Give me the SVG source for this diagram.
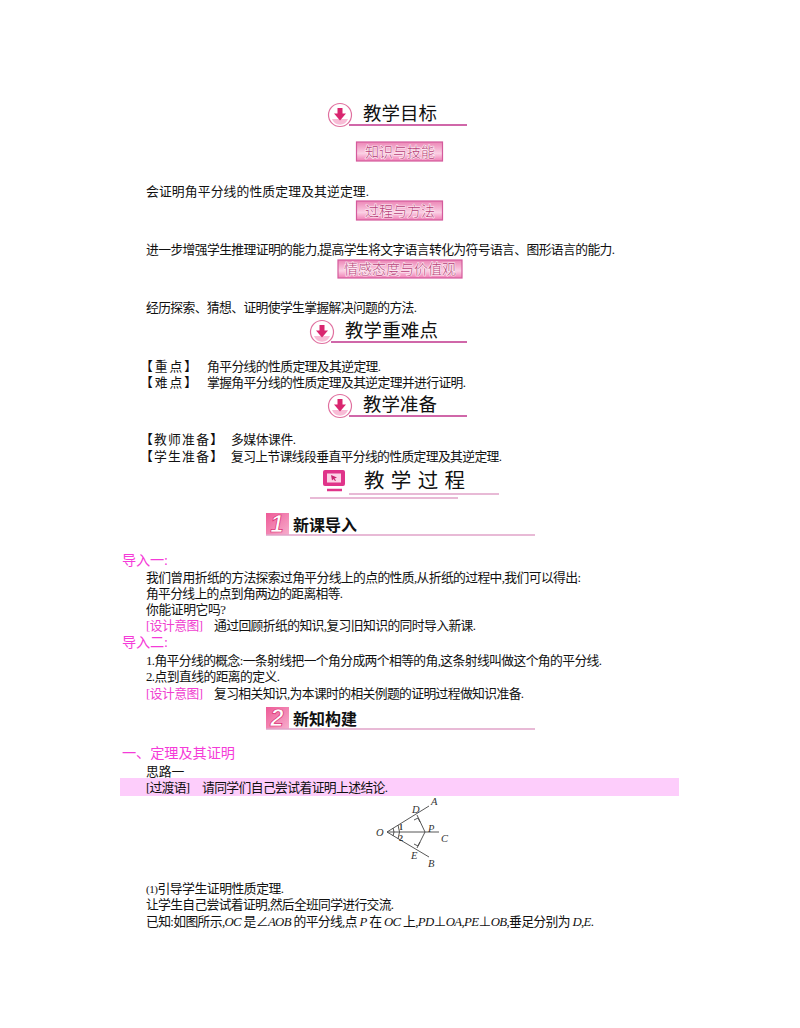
<svg xmlns="http://www.w3.org/2000/svg" width="800" height="1028" viewBox="0 0 800 1028">
<style>
text{font-family:"Liberation Serif","Noto Sans CJK SC",serif}
.t{font-size:12.8px;fill:#111}
.m{font-size:12.8px;fill:#f03fd0}
.mh{font-size:14.2px;fill:#f53bd8}
.h{font-size:18.5px;fill:#111;font-family:"Noto Sans CJK SC",sans-serif}
.sec{font-size:16px;font-weight:700;fill:#111;font-family:"Noto Sans CJK SC",sans-serif}
.box{fill:url(#pg);stroke:#d45a9c;stroke-width:1.2}
.bt{font-size:14px;fill:#b83f78;stroke:#fdeef5;stroke-width:1.2;paint-order:stroke;font-family:"Noto Sans CJK SC",sans-serif;font-weight:300;text-anchor:middle}
.ul{stroke:#c0358c;stroke-width:1.5;fill:none}
.ul2{stroke:#e0a3c8;stroke-width:1.4;fill:none}
.num{font-size:24px;font-weight:700;font-style:italic;fill:#fff;stroke:#d9266f;stroke-width:.7;font-family:"Liberation Sans",sans-serif;text-anchor:middle}
.g{stroke:#444;stroke-width:.9;fill:none}
.gl{font-size:10.500px;font-style:italic;fill:#333}
.i{font-style:italic}
</style>
<defs>
<linearGradient id="pg" x1="0" y1="0" x2="0" y2="1"><stop offset="0" stop-color="#ec86b6"/><stop offset=".6" stop-color="#fbd0e4"/><stop offset="1" stop-color="#f07fb5"/></linearGradient>
<linearGradient id="sq" x1="0" y1="0" x2="1" y2="1"><stop offset="0" stop-color="#ee5a97"/><stop offset="1" stop-color="#f7aecd"/></linearGradient>
<g id="arrowIcon"><circle cx="0" cy="0" r="11.5" fill="#fff" stroke="#e0709f" stroke-width="1.2"/><path d="M-8 4A8.500 8.500 0 0 0 8 4Z" fill="#f8bcd6"/><path d="M-2.500-7H2.500V-1.500H6L0 5.500-6-1.500H-2.500Z" fill="#d9266f"/></g>
</defs>

<g id="header-goal"><use href="#arrowIcon" x="340" y="115"/><path class="ul" d="M349 125H467"/><text class="h" x="363" y="120" textLength="74">教学目标</text></g>
<g id="box-knowledge"><rect class="box" x="356.500" y="142" width="86" height="19"/><text class="bt" x="400" y="156.500">知识与技能</text></g>
<g id="line-1"><text class="t" x="146" y="196" textLength="223">会证明角平分线的性质定理及其逆定理.</text></g>
<g id="box-process"><rect class="box" x="356.500" y="201" width="86" height="19"/><text class="bt" x="400" y="215.500">过程与方法</text></g>
<g id="line-2"><text class="t" x="146" y="254" textLength="469">进一步增强学生推理证明的能力,提高学生将文字语言转化为符号语言、图形语言的能力.</text></g>
<g id="box-attitude"><rect class="box" x="338" y="260" width="124" height="18"/><text class="bt" x="400" y="274">情感态度与价值观</text></g>
<g id="line-3"><text class="t" x="146" y="312" textLength="271">经历探索、猜想、证明使学生掌握解决问题的方法.</text></g>

<g id="header-key"><use href="#arrowIcon" x="322" y="332"/><path class="ul" d="M331 342H467"/><text class="h" x="345" y="337" textLength="93">教学重难点</text></g>
<g id="key-1"><text class="t" x="140" y="371" textLength="57">【重点】</text><text class="t" x="207" y="371" textLength="174">角平分线的性质定理及其逆定理.</text></g>
<g id="key-2"><text class="t" x="140" y="387" textLength="57">【难点】</text><text class="t" x="207" y="387" textLength="259">掌握角平分线的性质定理及其逆定理并进行证明.</text></g>

<g id="header-prep"><use href="#arrowIcon" x="340" y="406"/><path class="ul" d="M349 416H467"/><text class="h" x="363" y="411" textLength="74">教学准备</text></g>
<g id="prep-1"><text class="t" x="140" y="444" textLength="83">【教师准备】</text><text class="t" x="231" y="444" textLength="65">多媒体课件.</text></g>
<g id="prep-2"><text class="t" x="140" y="461" textLength="83">【学生准备】</text><text class="t" x="231" y="461" textLength="271">复习上节课线段垂直平分线的性质定理及其逆定理.</text></g>

<g id="header-process">
<rect x="323" y="470" width="22" height="16" rx="2" fill="#e0348a"/><rect x="327" y="473.500" width="14" height="9" fill="#fbd3e6"/><path d="M331 475l6 2.500-2.500 1 1.500 2-1 .5-1.500-2-1.500 1.500Z" fill="#c9246f"/><path d="M327 490H342" stroke="#e0348a" stroke-width="2.500"/>
<path class="ul2" d="M349 494H499"/><path class="ul2" d="M310 498H458"/>
<text x="364" y="488" style="font-size:20.500px;fill:#111;font-family:'Noto Sans CJK SC',sans-serif" textLength="101">教学过程</text></g>

<g id="section-1"><rect x="266" y="513" width="23" height="22" fill="url(#sq)"/><text class="num" x="277" y="532">1</text><path class="ul2" d="M266 535H535"/><text class="sec" x="293" y="531" textLength="64">新课导入</text></g>

<g id="intro-1-title"><text class="mh" x="122" y="565" textLength="46">导入一:</text></g>
<g id="intro-1"><text class="t" x="146" y="582" textLength="435">我们曾用折纸的方法探索过角平分线上的点的性质,从折纸的过程中,我们可以得出:</text>
<text class="t" x="146" y="598" textLength="197">角平分线上的点到角两边的距离相等.</text>
<text class="t" x="146" y="614" textLength="80">你能证明它吗?</text>
<text class="m" x="146" y="630" textLength="57">[设计意图]</text><text class="t" x="214" y="630" textLength="262">通过回顾折纸的知识,复习旧知识的同时导入新课.</text></g>
<g id="intro-2-title"><text class="mh" x="122" y="647" textLength="46">导入二:</text></g>
<g id="intro-2"><text class="t" x="146" y="665" textLength="456">1.角平分线的概念:一条射线把一个角分成两个相等的角,这条射线叫做这个角的平分线.</text>
<text class="t" x="146" y="681" textLength="134">2.点到直线的距离的定义.</text>
<text class="m" x="146" y="698" textLength="57">[设计意图]</text><text class="t" x="214" y="698" textLength="310">复习相关知识,为本课时的相关例题的证明过程做知识准备.</text></g>

<g id="section-2"><rect x="266" y="707" width="23" height="22" fill="url(#sq)"/><text class="num" x="277" y="726">2</text><path class="ul2" d="M266 729H535"/><text class="sec" x="293" y="725" textLength="64">新知构建</text></g>

<g id="theorem-title"><text class="mh" x="122" y="758" textLength="113">一、定理及其证明</text></g>
<g id="idea"><text class="t" x="146" y="776">思路一</text></g>
<g id="transition"><rect x="120" y="778" width="559" height="18" fill="#fdcdfb"/><text class="t" x="146" y="792" textLength="44">[过渡语]</text><text class="t" x="202" y="792" textLength="186">请同学们自己尝试着证明上述结论.</text></g>

<g id="figure">
<path class="g" d="M387 832L429 806M387 832L429 857M387 832H439M417 815L425 832L417 848"/>
<path class="g" d="M398 825Q401 832 398 839M393 828Q395 832 393 836M414 820L418 818L420 822M414 844L418 846L420 842"/>
<text class="gl" x="376" y="836">O</text><text class="gl" x="412" y="813">D</text><text class="gl" x="431" y="805">A</text><text class="gl" x="428" y="832">P</text><text class="gl" x="441" y="842">C</text><text class="gl" x="411" y="859">E</text><text class="gl" x="428" y="867">B</text>
<text class="gl" style="font-style:normal;font-weight:700;font-size:8px" x="399" y="830">1</text><text class="gl" style="font-style:normal;font-weight:700;font-size:8px" x="399" y="841">2</text>
</g>

<g id="proof"><text class="t" x="146" y="893" textLength="138"><tspan style="font-size:11px">(1)</tspan>引导学生证明性质定理.</text>
<text class="t" x="146" y="909" textLength="248">让学生自己尝试着证明,然后全班同学进行交流.</text>
<text class="t" x="146" y="926" textLength="448">已知:如图所示,<tspan class="i">OC</tspan> 是∠<tspan class="i">AOB</tspan> 的平分线,点 <tspan class="i">P</tspan> 在 <tspan class="i">OC</tspan> 上,<tspan class="i">PD</tspan>⊥<tspan class="i">OA</tspan>,<tspan class="i">PE</tspan>⊥<tspan class="i">OB</tspan>,垂足分别为 <tspan class="i">D</tspan>,<tspan class="i">E</tspan>.</text></g>
</svg>
